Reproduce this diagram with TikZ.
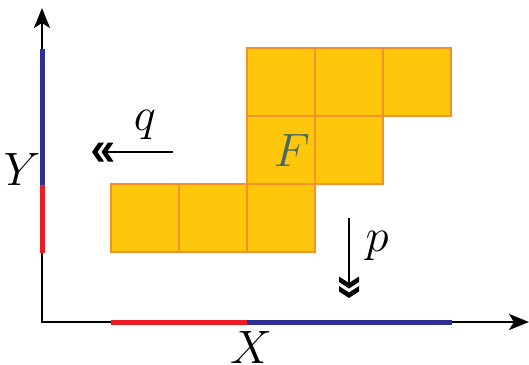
\documentclass[tikz,border=0pt]{standalone}
\usepackage{fix-cm}
\usetikzlibrary{arrows.meta}
\definecolor{cellfill}{RGB}{255,199,11}
\definecolor{celledge}{RGB}{245,145,45}
\definecolor{axblue}{RGB}{46,49,146}
\definecolor{axred}{RGB}{237,28,36}
\definecolor{fcol}{RGB}{72,102,102}
\begin{document}
\begin{tikzpicture}[x=1bp,y=-1bp,
  cell/.style={draw=celledge,fill=cellfill,line width=1.2bp,minimum size=68bp,inner sep=0pt,outer sep=0pt},
  axisline/.style={line width=2.4bp,black},
  seg/.style={line width=5bp},
  mv/.style={line width=2bp,black},
  chevron/.style={fill=black},
  lab/.style={inner sep=0pt,font=\fontsize{47}{50}\selectfont}]
\useasboundingbox (0,0) rectangle (529,364);
% axes
\coordinate (O) at (42,322);
\coordinate (ytip) at (42,8);
\coordinate (xtip) at (529,322);
\draw[axisline,{Stealth[length=20bp,width=16bp,inset=5bp]}-{Stealth[length=20bp,width=16bp,inset=5bp]}] (ytip) -- (O) -- (xtip);
\coordinate (yb1) at (42,49);
\coordinate (yb2) at (42,185);
\coordinate (yr2) at (42,253);
\coordinate (xr1) at (111,322);
\coordinate (xr2) at (247,322);
\coordinate (xb2) at (452,322);
\draw[seg,axblue] (yb1) -- (yb2);
\draw[seg,axred] (yb2) -- (yr2);
\draw[seg,axred] (xr1) -- (xr2);
\draw[seg,axblue] (xr2) -- (xb2);
% cells
\node[cell] (c11) at (281,82) {};
\node[cell] (c12) at (349,82) {};
\node[cell] (c13) at (417,82) {};
\node[cell] (c21) at (281,150) {};
\node[cell] (c22) at (349,150) {};
\node[cell] (c31) at (145,218) {};
\node[cell] (c32) at (213,218) {};
\node[cell] (c33) at (281,218) {};
\node[lab,text=fcol] (F) at (292,150) {$F$};
% motion arrow q (leftward, double chevron)
\coordinate (qs) at (173,152);
\coordinate (qe) at (105,152);
\coordinate (qt1) at (92,152);
\coordinate (qt2) at (101.5,152);
\draw[mv] (qs) -- (qe);
\foreach \t in {qt1,qt2}
  \fill[chevron] (\t) -- ++(6.5,-9.5) -- ++(5.5,0) -- ++(-6.5,9.5) -- ++(6.5,9.5) -- ++(-5.5,0) -- cycle;
\node[lab] (q) at (145,125) {$q$};
% motion arrow p (downward, double chevron)
\coordinate (ps) at (349,218);
\coordinate (pe) at (349,286);
\coordinate (pt1) at (349,298);
\coordinate (pt2) at (349,288.5);
\draw[mv] (ps) -- (pe);
\foreach \t in {pt1,pt2}
  \fill[chevron] (\t) -- ++(-10,-6.5) -- ++(0,-5.5) -- ++(10,6.5) -- ++(10,-6.5) -- ++(0,5.5) -- cycle;
\node[lab] (p) at (377,246) {$p$};
% axis labels
\node[lab] (Y) at (22,169) {$Y$};
\node[lab] (X) at (251,347) {$X$};
\end{tikzpicture}
\end{document}
